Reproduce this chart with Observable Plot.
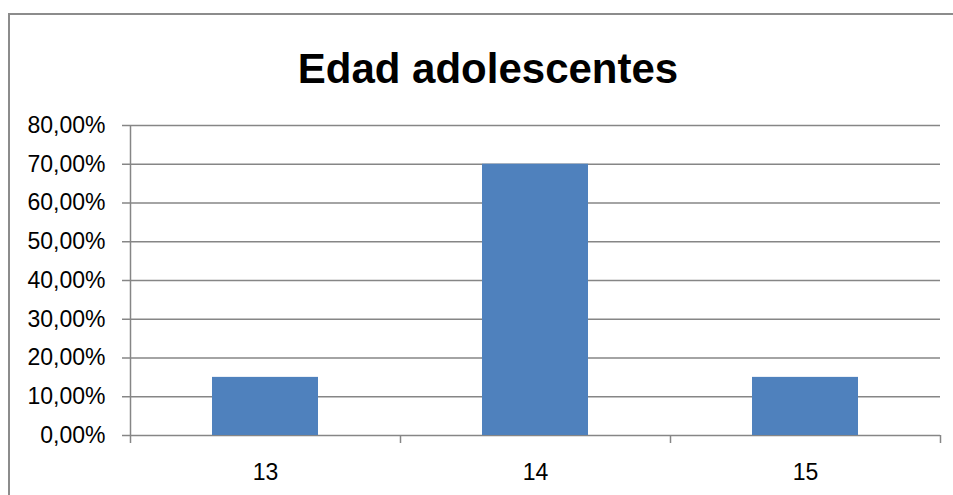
<!DOCTYPE html>
<html>
<head>
<meta charset="utf-8">
<script src="https://cdn.jsdelivr.net/npm/d3@7"></script>
<script src="https://cdn.jsdelivr.net/npm/@observablehq/plot@0.6"></script>
<style>
  html, body { margin: 0; padding: 0; background: #fff; overflow: hidden; }
  #wrap { position: relative; width: 953px; height: 495px; overflow: hidden; }
  #bt { position: absolute; left: 8px; top: 13px; width: 945px; height: 2px; background: #8c8c8c; }
  #bl { position: absolute; left: 8px; top: 13px; width: 2px; height: 482px; background: #8c8c8c; }
  #title { position: absolute; left: 0; width: 953px; padding-left: 23px; box-sizing: border-box; top: 44px; text-align: center; font-family: "Liberation Sans", Arial, sans-serif; font-weight: bold; font-size: 42px; color: #000; line-height: 50px; }
  #chart { position: absolute; left: 0; top: 0; }
</style>
</head>
<body>
<div id="wrap">
  <div id="bt"></div>
  <div id="bl"></div>
  <div id="title">Edad adolescentes</div>
  <div id="chart"></div>
</div>
<script>
const categories = ["13", "14", "15"];
const values = [0.15, 0.70, 0.15];
const yTicks = [0, 0.1, 0.2, 0.3, 0.4, 0.5, 0.6, 0.7, 0.8];
const yMax = 0.8;

const data = categories.map((c, i) => ({cat: c, value: values[i]}));
const fmt = d => (d * 100).toFixed(2).replace(".", ",") + "%";
const gridColor = "#868686";
const halfStep = 135;

const chart = Plot.plot({
  width: 953,
  height: 495,
  marginLeft: 130,
  marginRight: 13,
  marginTop: 125,
  marginBottom: 60,
  style: {fontFamily: "'Liberation Sans', Arial, sans-serif", fontSize: "23px", color: "#000", background: "transparent"},
  x: {domain: categories, paddingInner: 0.607, paddingOuter: 0.3035, label: null},
  y: {domain: [0, yMax], label: null},
  marks: [
    Plot.ruleY(yTicks, {stroke: gridColor, strokeWidth: 1.5}),
    Plot.axisY({ticks: yTicks, tickFormat: fmt, tickSize: 8, tickPadding: 17, stroke: gridColor, strokeWidth: 1.5, strokeOpacity: 1, label: null, fill: "#000", fontSize: 23}),
    Plot.ruleX(categories.slice(0, 1), {x: d => d, dx: -halfStep, y1: 0, y2: yMax, stroke: gridColor, strokeWidth: 1.5}),
    Plot.ruleX(categories, {x: d => d, dx: -halfStep, insetTop: 310, insetBottom: -8, stroke: gridColor, strokeWidth: 1.5}),
    Plot.ruleX(categories.slice(-1), {x: d => d, dx: halfStep, insetTop: 310, insetBottom: -8, stroke: gridColor, strokeWidth: 1.5}),
    Plot.barY(data, {x: "cat", y: "value", fill: "#4F81BD"}),
    Plot.axisX({tickSize: 0, tickPadding: 28, label: null, fill: "#000", fontSize: 23})
  ]
});
document.getElementById("chart").appendChild(chart);
</script>
</body>
</html>
